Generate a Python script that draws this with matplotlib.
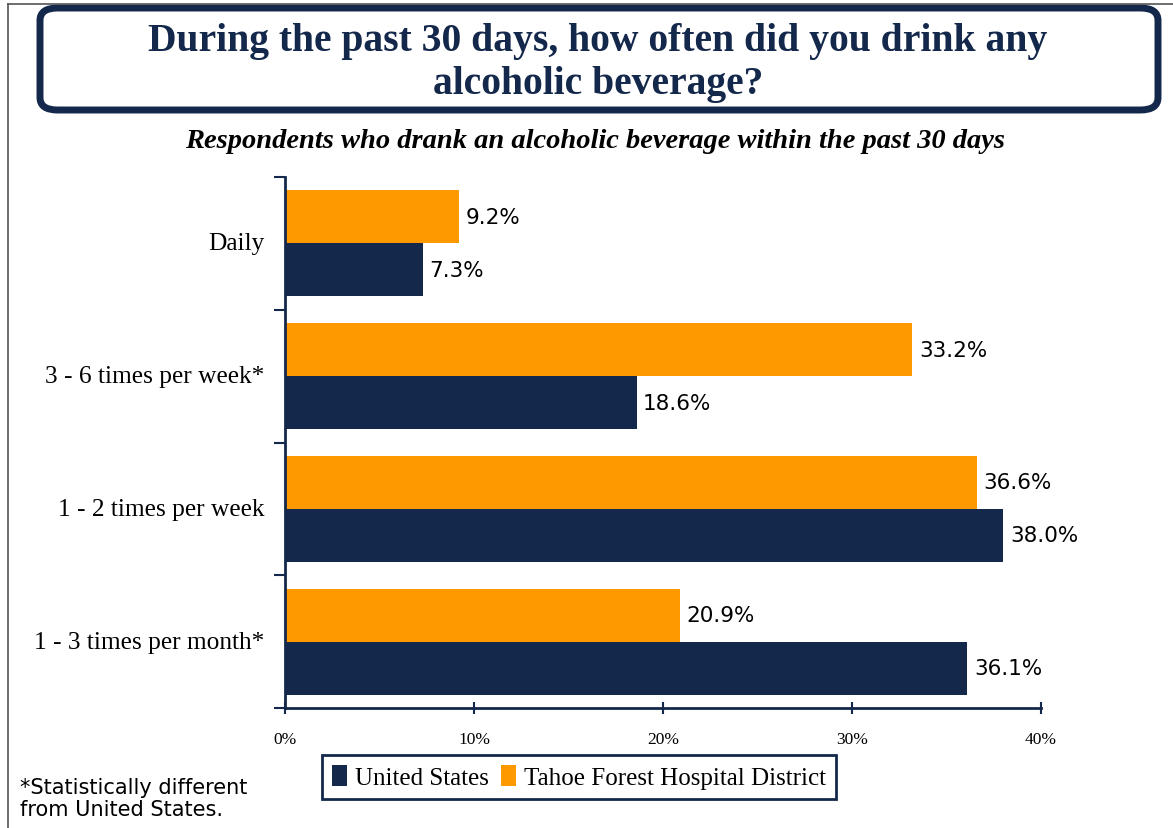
import matplotlib.pyplot as plt
from matplotlib.patches import FancyBboxPatch
import numpy as np

categories = ['Daily', '3 - 6 times per week*', '1 - 2 times per week', '1 - 3 times per month*']
us_vals = [7.3, 18.6, 38.0, 36.1]
tahoe_vals = [9.2, 33.2, 36.6, 20.9]
xticks = [0, 10, 20, 30, 40]

navy = '#13284A'
orange = '#FF9900'

fig = plt.figure(figsize=(11.73, 8.29), dpi=100)

# page frame on left and top
fig.add_artist(plt.Line2D([0.007, 0.007], [0, 0.994], color='#555555', lw=1.2))
fig.add_artist(plt.Line2D([0.007, 1.0], [0.994, 0.994], color='#555555', lw=1.2))

# title box
box = FancyBboxPatch((40 / 1173, 1 - 111 / 829), 1118 / 1173, 102 / 829,
                     boxstyle='round,pad=0,rounding_size=0.015',
                     transform=fig.transFigure, fc='white', ec=navy, lw=5)
fig.add_artist(box)
fig.text(598 / 1173, 1 - 63 / 829,
         'During the past 30 days, how often did you drink any\nalcoholic beverage?',
         ha='center', va='center', fontsize=28.5, fontweight='bold', color=navy,
         family='Liberation Serif', linespacing=1.2)
fig.text(595 / 1173, 1 - 142 / 829,
         'Respondents who drank an alcoholic beverage within the past 30 days',
         ha='center', va='center', fontsize=20.5, fontweight='bold', style='italic',
         family='Liberation Serif', color='black')

ax = fig.add_axes([285 / 1173, 1 - 709 / 829, (1041 - 285) / 1173, (709 - 178) / 829])

y = np.arange(len(categories))
h = 0.4
ax.barh(y - h / 2, tahoe_vals, height=h, color=orange, label='Tahoe Forest Hospital District')
ax.barh(y + h / 2, us_vals, height=h, color=navy, label='United States')

for i in range(len(categories)):
    ax.text(tahoe_vals[i] + 0.35, y[i] - h / 2, f'{tahoe_vals[i]:.1f}%', va='center', ha='left',
            fontsize=15.5, family='DejaVu Sans')
    ax.text(us_vals[i] + 0.35, y[i] + h / 2, f'{us_vals[i]:.1f}%', va='center', ha='left',
            fontsize=15.5, family='DejaVu Sans')
    ax.text(-1.1, y[i], categories[i], ha='right', va='center', fontsize=18.3,
            family='Liberation Serif')

ax.set_xlim(0, 40)
ax.set_ylim(len(categories) - 0.5, -0.5)
ax.set_xticks(xticks)
ax.set_xticklabels([f'{t}%' for t in xticks], family='Liberation Serif', fontsize=12.5)
ax.set_yticks(np.arange(len(categories) + 1) - 0.5)
ax.set_yticklabels([])
ax.tick_params(axis='x', direction='inout', length=9, width=1.5, color=navy, pad=12)
ax.tick_params(axis='y', direction='out', length=8, width=1.5, color=navy)
for s in ['top', 'right']:
    ax.spines[s].set_visible(False)
for s in ['left', 'bottom']:
    ax.spines[s].set_color(navy)
    ax.spines[s].set_linewidth(2)

handles, labels = ax.get_legend_handles_labels()
leg = fig.legend(handles[::-1], labels[::-1], loc='center', ncol=2,
                 bbox_to_anchor=(579 / 1173, 1 - 778 / 829),
                 prop={'family': 'Liberation Serif', 'size': 18},
                 frameon=True, fancybox=False, framealpha=1, handlelength=0.6,
                 handleheight=0.9, handletextpad=0.3, columnspacing=0.5,
                 borderpad=0.4, borderaxespad=0)
leg.get_frame().set_edgecolor(navy)
leg.get_frame().set_linewidth(2)

fig.text(20 / 1173, 1 - 799 / 829, '*Statistically different\nfrom United States.',
         ha='left', va='center', fontsize=15, family='DejaVu Sans', linespacing=1.1)

fig.savefig('out.png', dpi=100)
